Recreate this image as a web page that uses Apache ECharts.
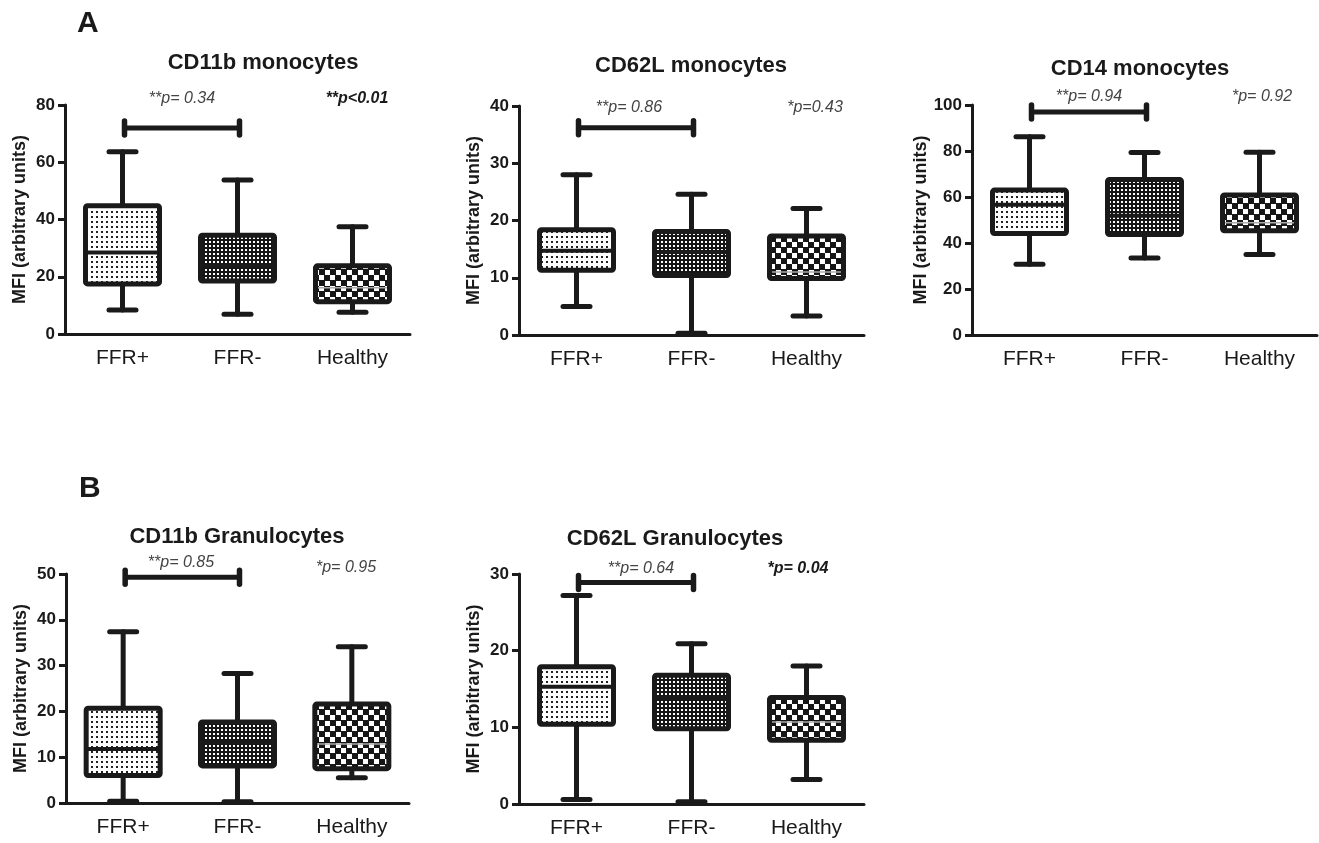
<!DOCTYPE html>
<html>
<head>
<meta charset="utf-8">
<script src="https://cdn.jsdelivr.net/npm/echarts@6/dist/echarts.min.js"></script>
<style>
  html, body { margin: 0; padding: 0; background: #fff; }
  #chart { width: 1319px; height: 843px; }
</style>
</head>
<body>
<div id="chart"></div>
<script>
// groups on every x axis
const groups = ['FFR+', 'FFR-', 'Healthy'];

// [min, Q1, median, Q3, max] for FFR+, FFR-, Healthy
const cd11bMono = [[8.4, 17.5, 28.5, 44.8, 63.7], [6.9, 18.5, 24, 34.5, 53.8], [7.6, 11.3, 16.2, 23.8, 37.5]];
const cd62lMono = [[5.0, 11.3, 14.7, 18.4, 28.0], [0.3, 10.4, 14.5, 18.1, 24.6], [3.3, 9.85, 11.0, 17.3, 22.1]];
const cd14Mono = [[30.8, 44.1, 56.6, 63.0, 86.2], [33.5, 43.7, 51.8, 67.6, 79.4], [35.0, 45.3, 48.8, 60.9, 79.5]];
const cd11bGran = [[0.4, 6.0, 11.8, 20.7, 37.4], [0.3, 8.1, 13.2, 17.7, 28.3], [5.5, 7.5, 12.9, 21.6, 34.1]];
const cd62lGran = [[0.6, 10.4, 15.3, 17.9, 27.2], [0.3, 9.8, 13.9, 16.8, 20.9], [3.2, 8.3, 10.7, 13.9, 18.0]];

// height of the FFR+ / FFR- comparison bracket
const bracketY = [72, 36.2, 97, 49.3, 28.9];

const panelTitles = ['CD11b monocytes', 'CD62L monocytes', 'CD14 monocytes', 'CD11b Granulocytes', 'CD62L Granulocytes'];
const pLeft = ['**p= 0.34', '**p= 0.86', '**p= 0.94', '**p= 0.85', '**p= 0.64'];
const pRight = ['**p<0.01', '*p=0.43', '*p= 0.92', '*p= 0.95', '*p= 0.04'];
const pRightBold = [true, false, false, false, true];

// y axis ranges
const yMax = [80, 40, 100, 50, 30];
const yStep = [20, 10, 20, 10, 10];

const panels = [cd11bMono, cd62lMono, cd14Mono, cd11bGran, cd62lGran];

// layout (pixels)
const grids = [
  { left: 65, top: 105, width: 345, height: 229 },
  { left: 519, top: 106, width: 345, height: 229 },
  { left: 972, top: 105, width: 345, height: 230 },
  { left: 66, top: 574, width: 343, height: 229 },
  { left: 519, top: 574, width: 345, height: 230 },
];
const titlePos = [[263, 63], [691, 66], [1140, 69], [237, 537], [675, 539]];
const pLeftPos = [[182, 99], [629, 108], [1089, 97], [181, 563], [641, 569]];
const pRightPos = [[357, 99], [815, 108], [1262, 97], [346, 568], [798, 569]];

const FONT = 'Arial, "Liberation Sans", Helvetica, sans-serif';
const INK = '#1a1a1a';

function makePattern(size, draw) {
  const c = document.createElement('canvas');
  c.width = c.height = size;
  draw(c.getContext('2d'), size);
  return { image: c, repeat: 'repeat' };
}

// FFR+ fine dots, FFR- dense grid, Healthy checkerboard
const fills = [
  makePattern(5, (ctx, s) => {
    ctx.fillStyle = '#fff'; ctx.fillRect(0, 0, s, s);
    ctx.fillStyle = '#222'; ctx.fillRect(1, 1, 2, 2);
  }),
  makePattern(4, (ctx, s) => {
    ctx.fillStyle = '#161616'; ctx.fillRect(0, 0, s, s);
    ctx.fillStyle = '#fff'; ctx.fillRect(1, 1, 2, 2);
  }),
  makePattern(11, (ctx, s) => {
    ctx.fillStyle = '#161616'; ctx.fillRect(0, 0, s, s);
    ctx.fillStyle = '#fff'; ctx.fillRect(0, 0, 5, 5); ctx.fillRect(6, 6, 5, 5);
  }),
];
const medianStyle = [
  { stroke: INK, lineWidth: 4 },
  { stroke: INK, lineWidth: 4 },
  { stroke: '#aaa', lineWidth: 1.5 },
];

function renderBox(params, api) {
  const i = api.value(0);
  const hi = api.coord([i, api.value(5)]);
  const q3 = api.coord([i, api.value(4)]);
  const md = api.coord([i, api.value(3)]);
  const q1 = api.coord([i, api.value(2)]);
  const lo = api.coord([i, api.value(1)]);
  const x = hi[0];
  const bw = 74, cw = 27;
  const line = { stroke: INK, lineWidth: 5, lineCap: 'round' };
  return {
    type: 'group',
    children: [
      { type: 'line', shape: { x1: x, y1: hi[1], x2: x, y2: q3[1] }, style: line },
      { type: 'line', shape: { x1: x, y1: q1[1], x2: x, y2: lo[1] }, style: line },
      { type: 'line', shape: { x1: x - cw / 2, y1: hi[1], x2: x + cw / 2, y2: hi[1] }, style: line },
      { type: 'line', shape: { x1: x - cw / 2, y1: lo[1], x2: x + cw / 2, y2: lo[1] }, style: line },
      {
        type: 'rect',
        shape: { x: x - bw / 2, y: q3[1], width: bw, height: q1[1] - q3[1], r: 2 },
        style: { fill: fills[i], stroke: 'none' },
      },
      {
        type: 'line',
        shape: { x1: x - bw / 2, y1: md[1], x2: x + bw / 2, y2: md[1] },
        style: medianStyle[i],
      },
      {
        type: 'rect',
        shape: { x: x - bw / 2, y: q3[1], width: bw, height: q1[1] - q3[1], r: 2 },
        style: { fill: 'none', stroke: INK, lineWidth: 5 },
      },
    ],
  };
}

function renderBracket(params, api) {
  const a = api.coord([api.value(0), api.value(2)]);
  const b = api.coord([api.value(1), api.value(2)]);
  const h = 7;
  const end = { stroke: INK, lineWidth: 5.5, lineCap: 'round' };
  return {
    type: 'group',
    children: [
      { type: 'line', shape: { x1: a[0] + 2, y1: a[1], x2: b[0] + 2, y2: b[1] }, style: { stroke: INK, lineWidth: 5 } },
      { type: 'line', shape: { x1: a[0] + 2, y1: a[1] - h, x2: a[0] + 2, y2: a[1] + h }, style: end },
      { type: 'line', shape: { x1: b[0] + 2, y1: b[1] - h, x2: b[0] + 2, y2: b[1] + h }, style: end },
    ],
  };
}

const chart = echarts.init(document.getElementById('chart'), null, { renderer: 'canvas' });

const xAxis = [], yAxis = [], series = [], graphic = [];

panels.forEach((rows, k) => {
  xAxis.push({
    gridIndex: k,
    type: 'category',
    data: groups,
    boundaryGap: true,
    axisLine: { lineStyle: { color: INK, width: 3 } },
    axisTick: { alignWithLabel: true, length: 7, lineStyle: { color: INK, width: 3 } },
    axisLabel: { color: INK, fontFamily: FONT, fontSize: 21, margin: 14 },
    splitLine: { show: false },
  });
  yAxis.push({
    gridIndex: k,
    type: 'value',
    min: 0,
    max: yMax[k],
    interval: yStep[k],
    name: 'MFI (arbitrary units)',
    nameLocation: 'middle',
    nameRotate: 90,
    nameGap: 36,
    nameTextStyle: { color: INK, fontFamily: FONT, fontSize: 18, fontWeight: 'bold' },
    axisLine: { show: true, lineStyle: { color: INK, width: 3 } },
    axisTick: { show: true, length: 7, lineStyle: { color: INK, width: 3 } },
    axisLabel: { color: INK, fontFamily: FONT, fontSize: 17, fontWeight: 'bold', margin: 10 },
    splitLine: { show: false },
  });
  series.push({
    type: 'custom',
    xAxisIndex: k,
    yAxisIndex: k,
    renderItem: renderBox,
    encode: { x: 0, y: [1, 2, 3, 4, 5] },
    data: rows.map((r, i) => [i].concat(r)),
    silent: true,
  });
  series.push({
    type: 'custom',
    xAxisIndex: k,
    yAxisIndex: k,
    renderItem: renderBracket,
    encode: { x: [0, 1], y: 2 },
    data: [[0, 1, bracketY[k]]],
    silent: true,
  });

  graphic.push({
    type: 'text', x: titlePos[k][0], y: titlePos[k][1],
    style: { text: panelTitles[k], fill: INK, font: 'bold 22px ' + FONT, align: 'center', verticalAlign: 'middle' },
  });
  graphic.push({
    type: 'text', x: pLeftPos[k][0], y: pLeftPos[k][1],
    style: { text: pLeft[k], fill: '#444', font: 'italic 16px ' + FONT, align: 'center', verticalAlign: 'middle' },
  });
  graphic.push({
    type: 'text', x: pRightPos[k][0], y: pRightPos[k][1],
    style: {
      text: pRight[k],
      fill: pRightBold[k] ? INK : '#444',
      font: (pRightBold[k] ? 'italic bold ' : 'italic ') + '16px ' + FONT,
      align: 'center', verticalAlign: 'middle',
    },
  });
});

// panel letters
graphic.push({ type: 'text', x: 77, y: 24, style: { text: 'A', fill: INK, font: 'bold 30px ' + FONT, verticalAlign: 'middle' } });
graphic.push({ type: 'text', x: 79, y: 489, style: { text: 'B', fill: INK, font: 'bold 30px ' + FONT, verticalAlign: 'middle' } });

const option = {
  backgroundColor: '#fff',
  animation: false,
  grid: grids.map(g => Object.assign({ containLabel: false }, g)),
  xAxis,
  yAxis,
  series,
  graphic,
};

chart.setOption(option);
</script>
</body>
</html>
